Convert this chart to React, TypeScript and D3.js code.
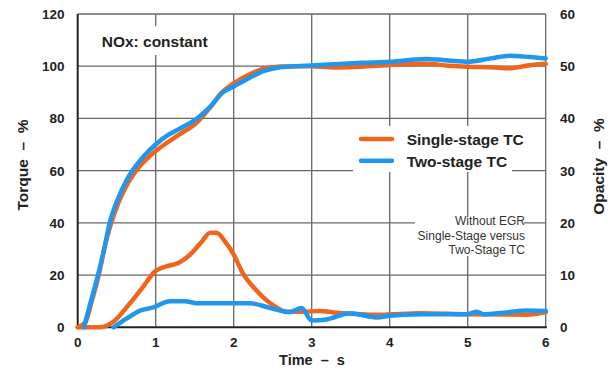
import React from "react";
import * as d3 from "d3";

const W = 615;
const H = 372;

// Time axis (s)
const timeTicks = [0, 1, 2, 3, 4, 5, 6];
const torqueTicks = [0, 20, 40, 60, 80, 100, 120];
const opacityTicks = [0, 10, 20, 30, 40, 50, 60];

// Torque – % (left axis)
const torqueSingleT = [0, 0.1, 0.18, 0.27, 0.34, 0.42, 0.52, 0.63, 0.75, 0.87, 1.0, 1.15, 1.3, 1.53, 1.7, 1.85, 2.0, 2.2, 2.4, 2.6, 2.8, 3.0, 3.3, 3.64, 4.0, 4.47, 4.75, 5.0, 5.3, 5.54, 5.75, 6.0];
const torqueSingleV = [0, 2, 10, 20, 30, 39, 47.5, 54.5, 60, 64, 67.5, 70.8, 73.8, 78.5, 84.3, 90, 93.4, 96.8, 99.2, 99.9, 100, 100, 99.5, 99.8, 100.5, 100.9, 100.2, 99.8, 99.6, 99.2, 100.2, 100.9];
const torqueTwoT = [0.08, 0.17, 0.26, 0.34, 0.41, 0.52, 0.63, 0.75, 0.87, 1.0, 1.15, 1.3, 1.53, 1.7, 1.85, 2.0, 2.2, 2.4, 2.6, 2.8, 3.0, 3.3, 3.64, 4.0, 4.47, 4.75, 5.0, 5.3, 5.54, 5.8, 6.0];
const torqueTwoV = [0, 10, 20, 30, 40, 49.5, 56.5, 62, 66.3, 70, 73.5, 76, 80, 84.5, 89.7, 92.2, 95.5, 98.3, 99.6, 100, 100.3, 100.8, 101.3, 101.7, 102.8, 102.2, 101.7, 103, 104, 103.5, 103];

// Opacity – % (right axis)
const opacitySingleT = [0, 0.29, 0.46, 0.67, 0.84, 0.99, 1.12, 1.29, 1.44, 1.59, 1.7, 1.78, 1.89, 2.0, 2.12, 2.29, 2.47, 2.68, 2.89, 3.1, 3.32, 3.88, 4.39, 5.0, 5.76, 6.0];
const opacitySingleV = [0, 0, 1.1, 4.6, 7.8, 10.7, 11.6, 12.3, 13.9, 16.4, 18.1, 18.1, 16.4, 13.9, 10.3, 7.1, 4.6, 3.0, 3.0, 3.1, 2.8, 2.4, 2.7, 2.5, 2.4, 2.9];
const opacityTwoT = [0.46, 0.63, 0.8, 0.97, 1.18, 1.38, 1.53, 2.21, 2.47, 2.72, 2.87, 3.0, 3.19, 3.49, 3.83, 4.0, 4.39, 5.0, 5.12, 5.2, 5.46, 5.76, 6.0];
const opacityTwoV = [0, 1.7, 3.2, 3.8, 5.0, 5.0, 4.6, 4.6, 3.7, 2.9, 3.7, 1.3, 1.5, 2.7, 1.9, 2.2, 2.5, 2.5, 3.0, 2.5, 2.8, 3.2, 3.1];

const ORANGE = "#f0651c";
const BLUE = "#1f97ee";

const left = 77.7;
const right = 545.7;
const top = 14;
const bottom = 327.3;

export default function App() {
  const x = d3.scaleLinear().domain([0, 6]).range([left, right]);
  const yL = d3.scaleLinear().domain([0, 120]).range([bottom, top]);
  const yR = d3.scaleLinear().domain([0, 60]).range([bottom, top]);

  const mk = (ts: number[], vs: number[], y: d3.ScaleLinear<number, number>) =>
    d3
      .line<number>()
      .x((_, i) => x(ts[i]))
      .y((v) => y(v))
      .curve(d3.curveMonotoneX)(vs) || "";

  const font = "'Liberation Sans', Arial, sans-serif";
  const grid = "#666";

  return (
    <svg
      width={W}
      height={H}
      style={{ position: "absolute", left: 0, top: 0, background: "#fff", fontFamily: font }}
    >
      <rect x={0} y={0} width={W} height={H} fill="#fff" />
      {/* gridlines */}
      {timeTicks.slice(1).map((t) => (
        <line key={"vx" + t} x1={x(t)} x2={x(t)} y1={top} y2={bottom} stroke={grid} strokeWidth={1.3} />
      ))}
      {torqueTicks.slice(1).map((v) => (
        <line key={"hy" + v} x1={left} x2={right} y1={yL(v)} y2={yL(v)} stroke={grid} strokeWidth={1.3} />
      ))}
      {/* white boxes behind texts */}
      <rect x={94} y={26} width={126} height={29} fill="#fff" />
      <rect x={353} y={126} width={159} height={46} fill="#fff" />
      <rect x={415} y={216} width={109} height={40} fill="#fff" />
      {/* axes */}
      <line x1={left} x2={left} y1={top} y2={bottom + 1} stroke="#222" strokeWidth={2} />
      <line x1={left - 1} x2={right + 1} y1={bottom} y2={bottom} stroke="#222" strokeWidth={2} />

      {/* series */}
      <path d={mk(opacitySingleT, opacitySingleV, yR)} fill="none" stroke={ORANGE} strokeWidth={4.5} strokeLinejoin="round" strokeLinecap="round" />
      <path d={mk(torqueSingleT, torqueSingleV, yL)} fill="none" stroke={ORANGE} strokeWidth={4.5} strokeLinejoin="round" strokeLinecap="round" />
      <path d={mk(opacityTwoT, opacityTwoV, yR)} fill="none" stroke={BLUE} strokeWidth={4.5} strokeLinejoin="round" strokeLinecap="round" />
      <path d={mk(torqueTwoT, torqueTwoV, yL)} fill="none" stroke={BLUE} strokeWidth={4.5} strokeLinejoin="round" strokeLinecap="round" />

      {/* tick labels */}
      {torqueTicks.map((v) => (
        <text key={"tl" + v} x={64.5} y={yL(v) + 5} textAnchor="end" fontSize={13.5} fontWeight="bold" fill="#222">
          {v}
        </text>
      ))}
      {opacityTicks.map((v) => (
        <text key={"tr" + v} x={560} y={yR(v) + 5} textAnchor="start" fontSize={13.5} fontWeight="bold" fill="#222">
          {v}
        </text>
      ))}
      {timeTicks.map((t) => (
        <text key={"tx" + t} x={x(t)} y={346.7} textAnchor="middle" fontSize={13.5} fontWeight="bold" fill="#222">
          {t}
        </text>
      ))}

      {/* axis titles */}
      <text x={312} y={365} textAnchor="middle" fontSize={14.5} fontWeight="bold" fill="#222" style={{ whiteSpace: "pre" }}>
        {"Time  –  s"}
      </text>
      <text
        transform={`translate(28,165) rotate(-90)`}
        textAnchor="middle"
        fontSize={15.5}
        fontWeight="bold"
        fill="#222"
        style={{ whiteSpace: "pre" }}
      >
        {"Torque  –  %"}
      </text>
      <text
        transform={`translate(604,166.5) rotate(-90)`}
        textAnchor="middle"
        fontSize={15.5}
        fontWeight="bold"
        fill="#222"
        style={{ whiteSpace: "pre" }}
      >
        {"Opacity  –  %"}
      </text>

      {/* NOx label */}
      <text x={101.7} y={46.7} fontSize={15.5} fontWeight="bold" fill="#222">
        NOx: constant
      </text>

      {/* legend */}
      <line x1={361} x2={392} y1={139} y2={139} stroke={ORANGE} strokeWidth={4.5} strokeLinecap="round" />
      <line x1={361} x2={392} y1={160.7} y2={160.7} stroke={BLUE} strokeWidth={4.5} strokeLinecap="round" />
      <text x={406.7} y={145} fontSize={15.5} fontWeight="bold" fill="#222">
        Single-stage TC
      </text>
      <text x={406.7} y={166.7} fontSize={15.5} fontWeight="bold" fill="#222">
        Two-stage TC
      </text>

      {/* annotation */}
      <text x={525} y={225} textAnchor="end" fontSize={12} fill="#333">
        Without EGR
      </text>
      <text x={525} y={239.5} textAnchor="end" fontSize={12} fill="#333">
        Single-Stage versus
      </text>
      <text x={525} y={254} textAnchor="end" fontSize={12} fill="#333">
        Two-Stage TC
      </text>
    </svg>
  );
}
